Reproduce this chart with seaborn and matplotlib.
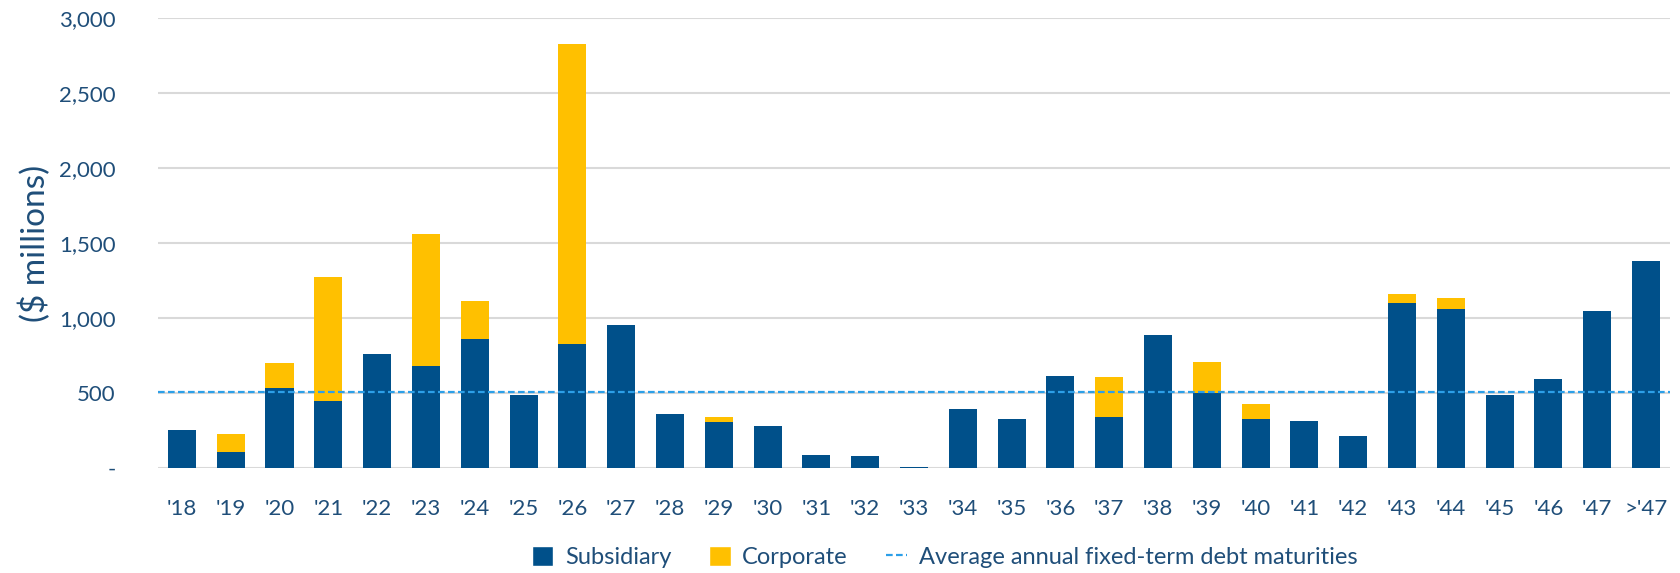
import matplotlib.pyplot as plt
import matplotlib.ticker as mticker
import pandas as pd
import seaborn as sns
from matplotlib.lines import Line2D
from matplotlib.patches import Patch

years = ["'18", "'19", "'20", "'21", "'22", "'23", "'24", "'25", "'26", "'27",
         "'28", "'29", "'30", "'31", "'32", "'33", "'34", "'35", "'36", "'37",
         "'38", "'39", "'40", "'41", "'42", "'43", "'44", "'45", "'46", "'47", ">'47"]
subsidiary = [253, 107, 536, 450, 762, 684, 862, 485, 830, 954,
              363, 309, 280, 85, 80, 10, 394, 326, 616, 343,
              891, 504, 329, 317, 212, 1103, 1059, 485, 597, 1047, 1381]
corporate = [0, 122, 165, 823, 0, 879, 251, 0, 1999, 0,
             0, 29, 0, 0, 0, 0, 0, 0, 0, 263,
             0, 205, 100, 0, 0, 56, 73, 0, 0, 0, 0]
avg_maturities = 505

SUB_COLOR = "#00508A"
CORP_COLOR = "#FFC000"
AVG_COLOR = "#2C9FE8"
TEXT_COLOR = "#1F4E79"

df = pd.DataFrame({"year": years, "subsidiary": subsidiary, "corporate": corporate})
df["total"] = df["subsidiary"] + df["corporate"]

sns.set_theme(style="white")
plt.rcParams["font.family"] = ["Lato", "DejaVu Sans"]

fig = plt.figure(figsize=(16.81, 5.73), dpi=100)
ax = fig.add_axes([0.0937, 0.183, 0.9, 0.785])

# stacked: draw totals (corporate colour) then subsidiary over it
sns.barplot(data=df, x="year", y="total", color=CORP_COLOR, width=0.575,
            saturation=1, linewidth=0, ax=ax, zorder=2)
sns.barplot(data=df, x="year", y="subsidiary", color=SUB_COLOR, width=0.575,
            saturation=1, linewidth=0, ax=ax, zorder=3)

ax.axhline(avg_maturities, color=AVG_COLOR, linestyle=(0, (3, 1.5)),
           linewidth=1.6, zorder=4)

ax.set_xlim(-0.5, len(years) - 0.5)
ax.set_ylim(0, 3000)
ax.set_yticks(range(0, 3001, 500))
ax.yaxis.set_major_formatter(
    mticker.FuncFormatter(lambda v, _: "-" if v == 0 else f"{int(v):,}"))
ax.grid(axis="y", color="#D9D9D9", linewidth=1.5, zorder=0)
ax.set_axisbelow(True)
for s in ax.spines.values():
    s.set_visible(False)

ax.tick_params(axis="both", length=0, labelsize=16, labelcolor=TEXT_COLOR)
ax.tick_params(axis="y", pad=30)
ax.tick_params(axis="x", pad=22)
ax.set_xlabel("")
ax.set_ylabel("($ millions)", fontsize=24, color=TEXT_COLOR)
ax.yaxis.set_label_coords(-0.07, 0.5)

handles = [
    Patch(facecolor=SUB_COLOR, label="Subsidiary"),
    Patch(facecolor=CORP_COLOR, label="Corporate"),
    Line2D([0], [0], color=AVG_COLOR, linestyle=(0, (3, 1.5)), linewidth=1.6,
           label="Average annual fixed-term debt maturities"),
]
leg = fig.legend(handles=handles, loc="center", bbox_to_anchor=(0.562, 0.028),
                 ncol=3, frameon=False, fontsize=17, handlelength=0.9,
                 handleheight=0.9, columnspacing=1.6, handletextpad=0.5,
                 borderpad=0)
for t in leg.get_texts():
    t.set_color(TEXT_COLOR)

fig.savefig("out.png", dpi=100)
